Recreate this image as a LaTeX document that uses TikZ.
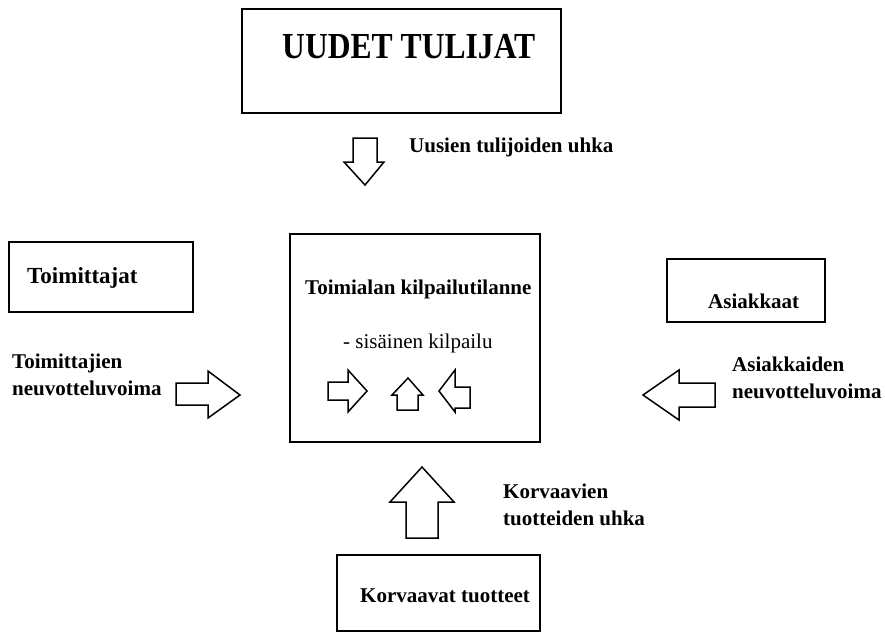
\documentclass[tikz,border=0pt]{standalone}
\usepackage{fontspec}
\setmainfont{Liberation Serif}
\usepackage{graphicx}
\begin{document}
\begin{tikzpicture}[x=1pt,y=-1pt,
  box/.style={draw, line width=1.8pt, inner sep=0pt},
  lbl/.style={anchor=base west, inner sep=0pt, font=\fontsize{21}{27}\selectfont\bfseries},
  blk/.style={draw, line width=1.5pt, line join=miter, fill=white}]
\useasboundingbox (0,0) rectangle (885,633);

% boxes
\node[box, minimum width=319pt, minimum height=104pt] (entrants) at (401.5,61) {};
\node[box, minimum width=184pt, minimum height=70pt] (suppliers) at (101,277) {};
\node[box, minimum width=250pt, minimum height=208pt] (industry) at (415,338) {};
\node[box, minimum width=158pt, minimum height=63pt] (buyers) at (746,290.5) {};
\node[box, minimum width=203pt, minimum height=76pt] (substitutes) at (438.5,593) {};

% box titles
\node[anchor=base west, inner sep=0pt] (entrantsT) at (282,58)
  {\scalebox{1}[1.16]{\fontsize{31.6}{36}\selectfont\bfseries UUDET TULIJAT}};
\node[lbl, font=\fontsize{23}{27}\selectfont\bfseries] (suppliersT) at (27,283) {Toimittajat};
\node[lbl] (industryT) at (305,294) {Toimialan kilpailutilanne};
\node[anchor=base west, inner sep=0pt, font=\fontsize{21}{27}\selectfont] (rivalryT) at (343,348) {- sisäinen kilpailu};
\node[lbl] (buyersT) at (708,308) {Asiakkaat};
\node[lbl] (substitutesT) at (360,602) {Korvaavat tuotteet};

% force labels
\node[lbl] (threatNew) at (409,152) {Uusien tulijoiden uhka};
\node[lbl] (supPower1) at (12,368) {Toimittajien};
\node[lbl] (supPower2) at (12,395) {neuvotteluvoima};
\node[lbl] (buyPower1) at (732,371) {Asiakkaiden};
\node[lbl] (buyPower2) at (732,398) {neuvotteluvoima};
\node[lbl] (subThreat1) at (503,498) {Korvaavien};
\node[lbl] (subThreat2) at (503,525) {tuotteiden uhka};

% block arrows of the five forces
\draw[blk] (353,138) -- (377,138) -- (377,162) -- (384,162) -- (365,185)
  -- (344,162) -- (353,162) -- cycle;
\draw[blk] (176,383) -- (208,383) -- (208,371) -- (240,395) -- (208,418)
  -- (208,405) -- (176,405) -- cycle;
\draw[blk] (715,383) -- (679,383) -- (679,370) -- (643,395) -- (679,420)
  -- (679,407) -- (715,407) -- cycle;
\draw[blk] (406,538) -- (406,502) -- (390,502) -- (422,467) -- (454,502)
  -- (438,502) -- (438,538) -- cycle;

% small arrows of internal rivalry
\draw[blk] (328,382) -- (348,382) -- (348,370) -- (367,391) -- (348,412)
  -- (348,400) -- (328,400) -- cycle;
\draw[blk] (397,410) -- (397,395) -- (392,395) -- (408,378) -- (423,395)
  -- (418,395) -- (418,410) -- cycle;
\draw[blk] (470,387) -- (455,387) -- (455,370) -- (439,391) -- (455,412)
  -- (455,408) -- (470,408) -- cycle;
\end{tikzpicture}
\end{document}
